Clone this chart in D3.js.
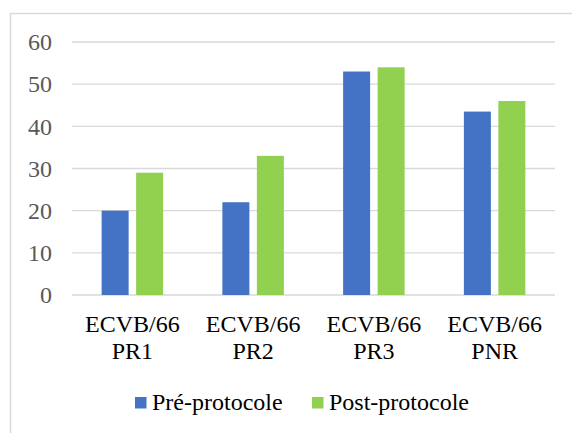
<!DOCTYPE html>
<html><head><meta charset="utf-8">
<script src="https://cdn.jsdelivr.net/npm/d3@7"></script>
<style>body{margin:0;background:#fff;}svg{display:block;} svg text{font-family:"Liberation Serif","Times New Roman","DejaVu Serif",serif;}</style>
</head><body>
<svg id="c" width="572" height="433"></svg>
<script>
const categories = [["ECVB/66","PR1"],["ECVB/66","PR2"],["ECVB/66","PR3"],["ECVB/66","PNR"]];
const seriesNames = ["Pré-protocole","Post-protocole"];
const preValues = [20, 22, 53, 43.5];
const postValues = [29, 33, 54, 46];
const yTicks = [0,10,20,30,40,50,60];
const colors = ["#4472C4","#92D050"];

(function(){
const svg = d3.select("#c");
svg.append("rect").attr("x",10.5).attr("y",13.5).attr("width",600).attr("height",500)
  .attr("fill","#fff").attr("stroke","#d9d9d9").attr("stroke-width",1.5);

const pLeft=72, pRight=555, pTop=42, pBottom=295;
const x = d3.scaleBand().domain(d3.range(categories.length)).range([pLeft,pRight]);
const y = d3.scaleLinear().domain([0,60]).range([pBottom,pTop]);

const grid = svg.append("g");
grid.selectAll("line").data(yTicks).join("line")
  .attr("x1",pLeft).attr("x2",pRight).attr("y1",d=>y(d)).attr("y2",d=>y(d))
  .attr("stroke","#d9d9d9").attr("stroke-width",1.3);

const yAxis = d3.axisLeft(y).tickValues(yTicks).tickSize(0).tickPadding(20);
const ya = svg.append("g").attr("transform",`translate(${pLeft},0)`).call(yAxis);
ya.attr("font-family",null);
ya.select(".domain").remove();
ya.selectAll("text").attr("font-size",24).attr("fill","#595959");

const barW = 27, gap = 7.5;
const data = [preValues, postValues];
data.forEach((vals,si)=>{
  svg.append("g").selectAll("rect").data(vals).join("rect")
    .attr("x",(d,i)=>x(i)+x.bandwidth()/2 + (si===0 ? -gap/2-barW : gap/2))
    .attr("y",d=>y(d)).attr("width",barW).attr("height",d=>y(0)-y(d))
    .attr("fill",colors[si]);
});

const xl = svg.append("g");
categories.forEach((c,i)=>{
  const t = xl.append("text").attr("text-anchor","middle")
    .attr("font-size",24).attr("fill","#000");
  t.append("tspan").attr("x",x(i)+x.bandwidth()/2).attr("y",331.5).text(c[0]);
  t.append("tspan").attr("x",x(i)+x.bandwidth()/2).attr("y",359).text(c[1]);
});

const legX = [135, 312];
seriesNames.forEach((n,i)=>{
  svg.append("rect").attr("x",legX[i]).attr("y",397).attr("width",11.5).attr("height",11.5).attr("fill",colors[i]);
  svg.append("text").attr("x",legX[i]+17).attr("y",410).attr("font-size",24)
    .attr("fill","#000").text(n);
});
})();
</script>
</body></html>
